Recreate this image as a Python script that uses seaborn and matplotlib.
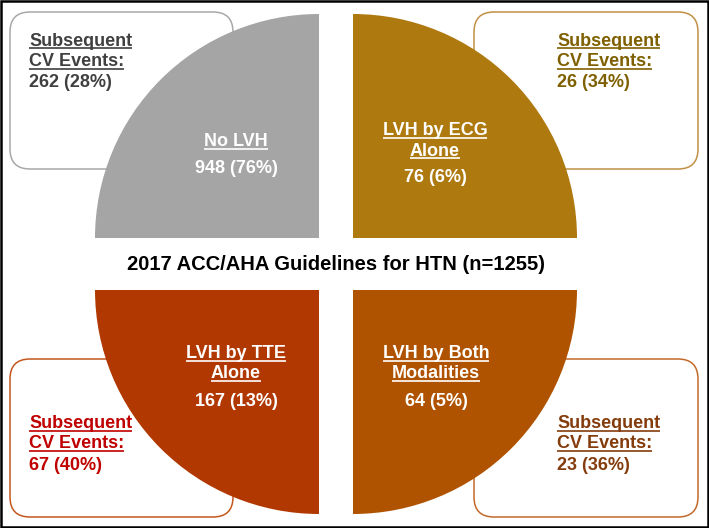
"""
LVH categories under the 2017 ACC/AHA HTN guidelines
Four quarter wedges with subsequent CV event boxes
"""
import matplotlib

matplotlib.use("Agg")
import matplotlib.pyplot as plt
from matplotlib.patches import Wedge, FancyBboxPatch, Rectangle
import seaborn as sns

sns.set_style("white")
plt.rcParams["font.family"] = ["Liberation Sans", "DejaVu Sans"]
plt.rcParams["font.weight"] = "bold"

# Data
TITLE = "2017 ACC/AHA Guidelines for HTN (n=1255)"
GROUPS = ["No LVH", "LVH by ECG\nAlone", "LVH by TTE\nAlone", "LVH by Both\nModalities"]
GROUP_N = [948, 76, 167, 64]
GROUP_PCT = [76, 6, 13, 5]
EVENT_N = [262, 26, 67, 23]
EVENT_PCT = [28, 34, 40, 36]

WEDGE_COLORS = sns.color_palette(["#A5A5A5", "#AE790F", "#B13800", "#B05300"])
BOX_EDGE = ["#A8A8A8", "#C09045", "#C4561E", "#C2692A"]
EVENT_TEXT = ["#404040", "#7F6000", "#C00000", "#843C0C"]

# Layout in pixel units (y grows downward)
W, H = 709, 528
RADIUS = 224
# quadrant: wedge corner, angles, label x, first label baseline, box, text x, text baselines
LAYOUT = [
    dict(corner=(319, 238), theta=(180, 270), lx=236, ly=146,
         box=(10, 12, 223, 157), tx=29, ty=45.5),
    dict(corner=(353, 238), theta=(270, 360), lx=435, ly=135,
         box=(474, 12, 224, 157), tx=557, ty=45.5),
    dict(corner=(319, 290), theta=(90, 180), lx=236, ly=358,
         box=(10, 359, 223, 158), tx=29, ty=428),
    dict(corner=(353, 290), theta=(0, 90), lx=436, ly=358,
         box=(474, 359, 224, 158), tx=557, ty=428),
]
FS = 13
LINE = 20.5
NUM_GAP = 27


def underline(ax, txt, renderer, color):
    """Draw an underline just under the baseline of a text"""
    bb = txt.get_window_extent(renderer)
    inv = ax.transData.inverted()
    (x0, _), (x1, _) = inv.transform([(bb.x0, bb.y0), (bb.x1, bb.y0)])
    y = txt.get_position()[1] + 2.5
    ax.plot([x0, x1], [y, y], color=color, lw=1.2, solid_capstyle="butt", zorder=5)


def main():
    fig = plt.figure(figsize=(W / 100, H / 100), dpi=100)
    ax = fig.add_axes([0, 0, 1, 1])
    ax.set_xlim(0, W)
    ax.set_ylim(H, 0)
    ax.axis("off")

    to_underline = []
    for i, lay in enumerate(LAYOUT):
        # event box behind the wedge
        bx, by, bw, bh = lay["box"]
        ax.add_patch(FancyBboxPatch(
            (bx, by), bw, bh, boxstyle="round,pad=0,rounding_size=20",
            facecolor="white", edgecolor=BOX_EDGE[i], lw=1.1, zorder=1,
        ))
        ax.add_patch(Wedge(
            lay["corner"], RADIUS, *lay["theta"],
            facecolor=WEDGE_COLORS[i], edgecolor="none", zorder=2,
        ))

        # wedge label
        lines = GROUPS[i].split("\n")
        y = lay["ly"]
        for line in lines:
            t = ax.text(lay["lx"], y, line, color="white", fontsize=FS,
                        ha="center", va="baseline", zorder=4)
            to_underline.append((t, "white"))
            y += LINE
        ax.text(lay["lx"], y - LINE + NUM_GAP, f"{GROUP_N[i]} ({GROUP_PCT[i]}%)",
                color="white", fontsize=FS, ha="center", va="baseline", zorder=4)

        # event text
        y = lay["ty"]
        for line in ["Subsequent", "CV Events:"]:
            t = ax.text(lay["tx"], y, line, color=EVENT_TEXT[i], fontsize=FS,
                        ha="left", va="baseline", zorder=4)
            to_underline.append((t, EVENT_TEXT[i]))
            y += LINE
        ax.text(lay["tx"], y + 0.5, f"{EVENT_N[i]} ({EVENT_PCT[i]}%)",
                color=EVENT_TEXT[i], fontsize=FS, ha="left", va="baseline", zorder=4)

    ax.text(336, 270, TITLE, color="black", fontsize=14.5,
            ha="center", va="baseline", zorder=4)

    ax.add_patch(Rectangle((1.25, 1.25), W - 2.5, H - 2.5, facecolor="none",
                           edgecolor="black", lw=1.8, zorder=6))

    fig.canvas.draw()
    renderer = fig.canvas.get_renderer()
    for t, c in to_underline:
        underline(ax, t, renderer, c)

    plt.savefig("out.png", dpi=100)
    plt.close()


if __name__ == "__main__":
    main()
